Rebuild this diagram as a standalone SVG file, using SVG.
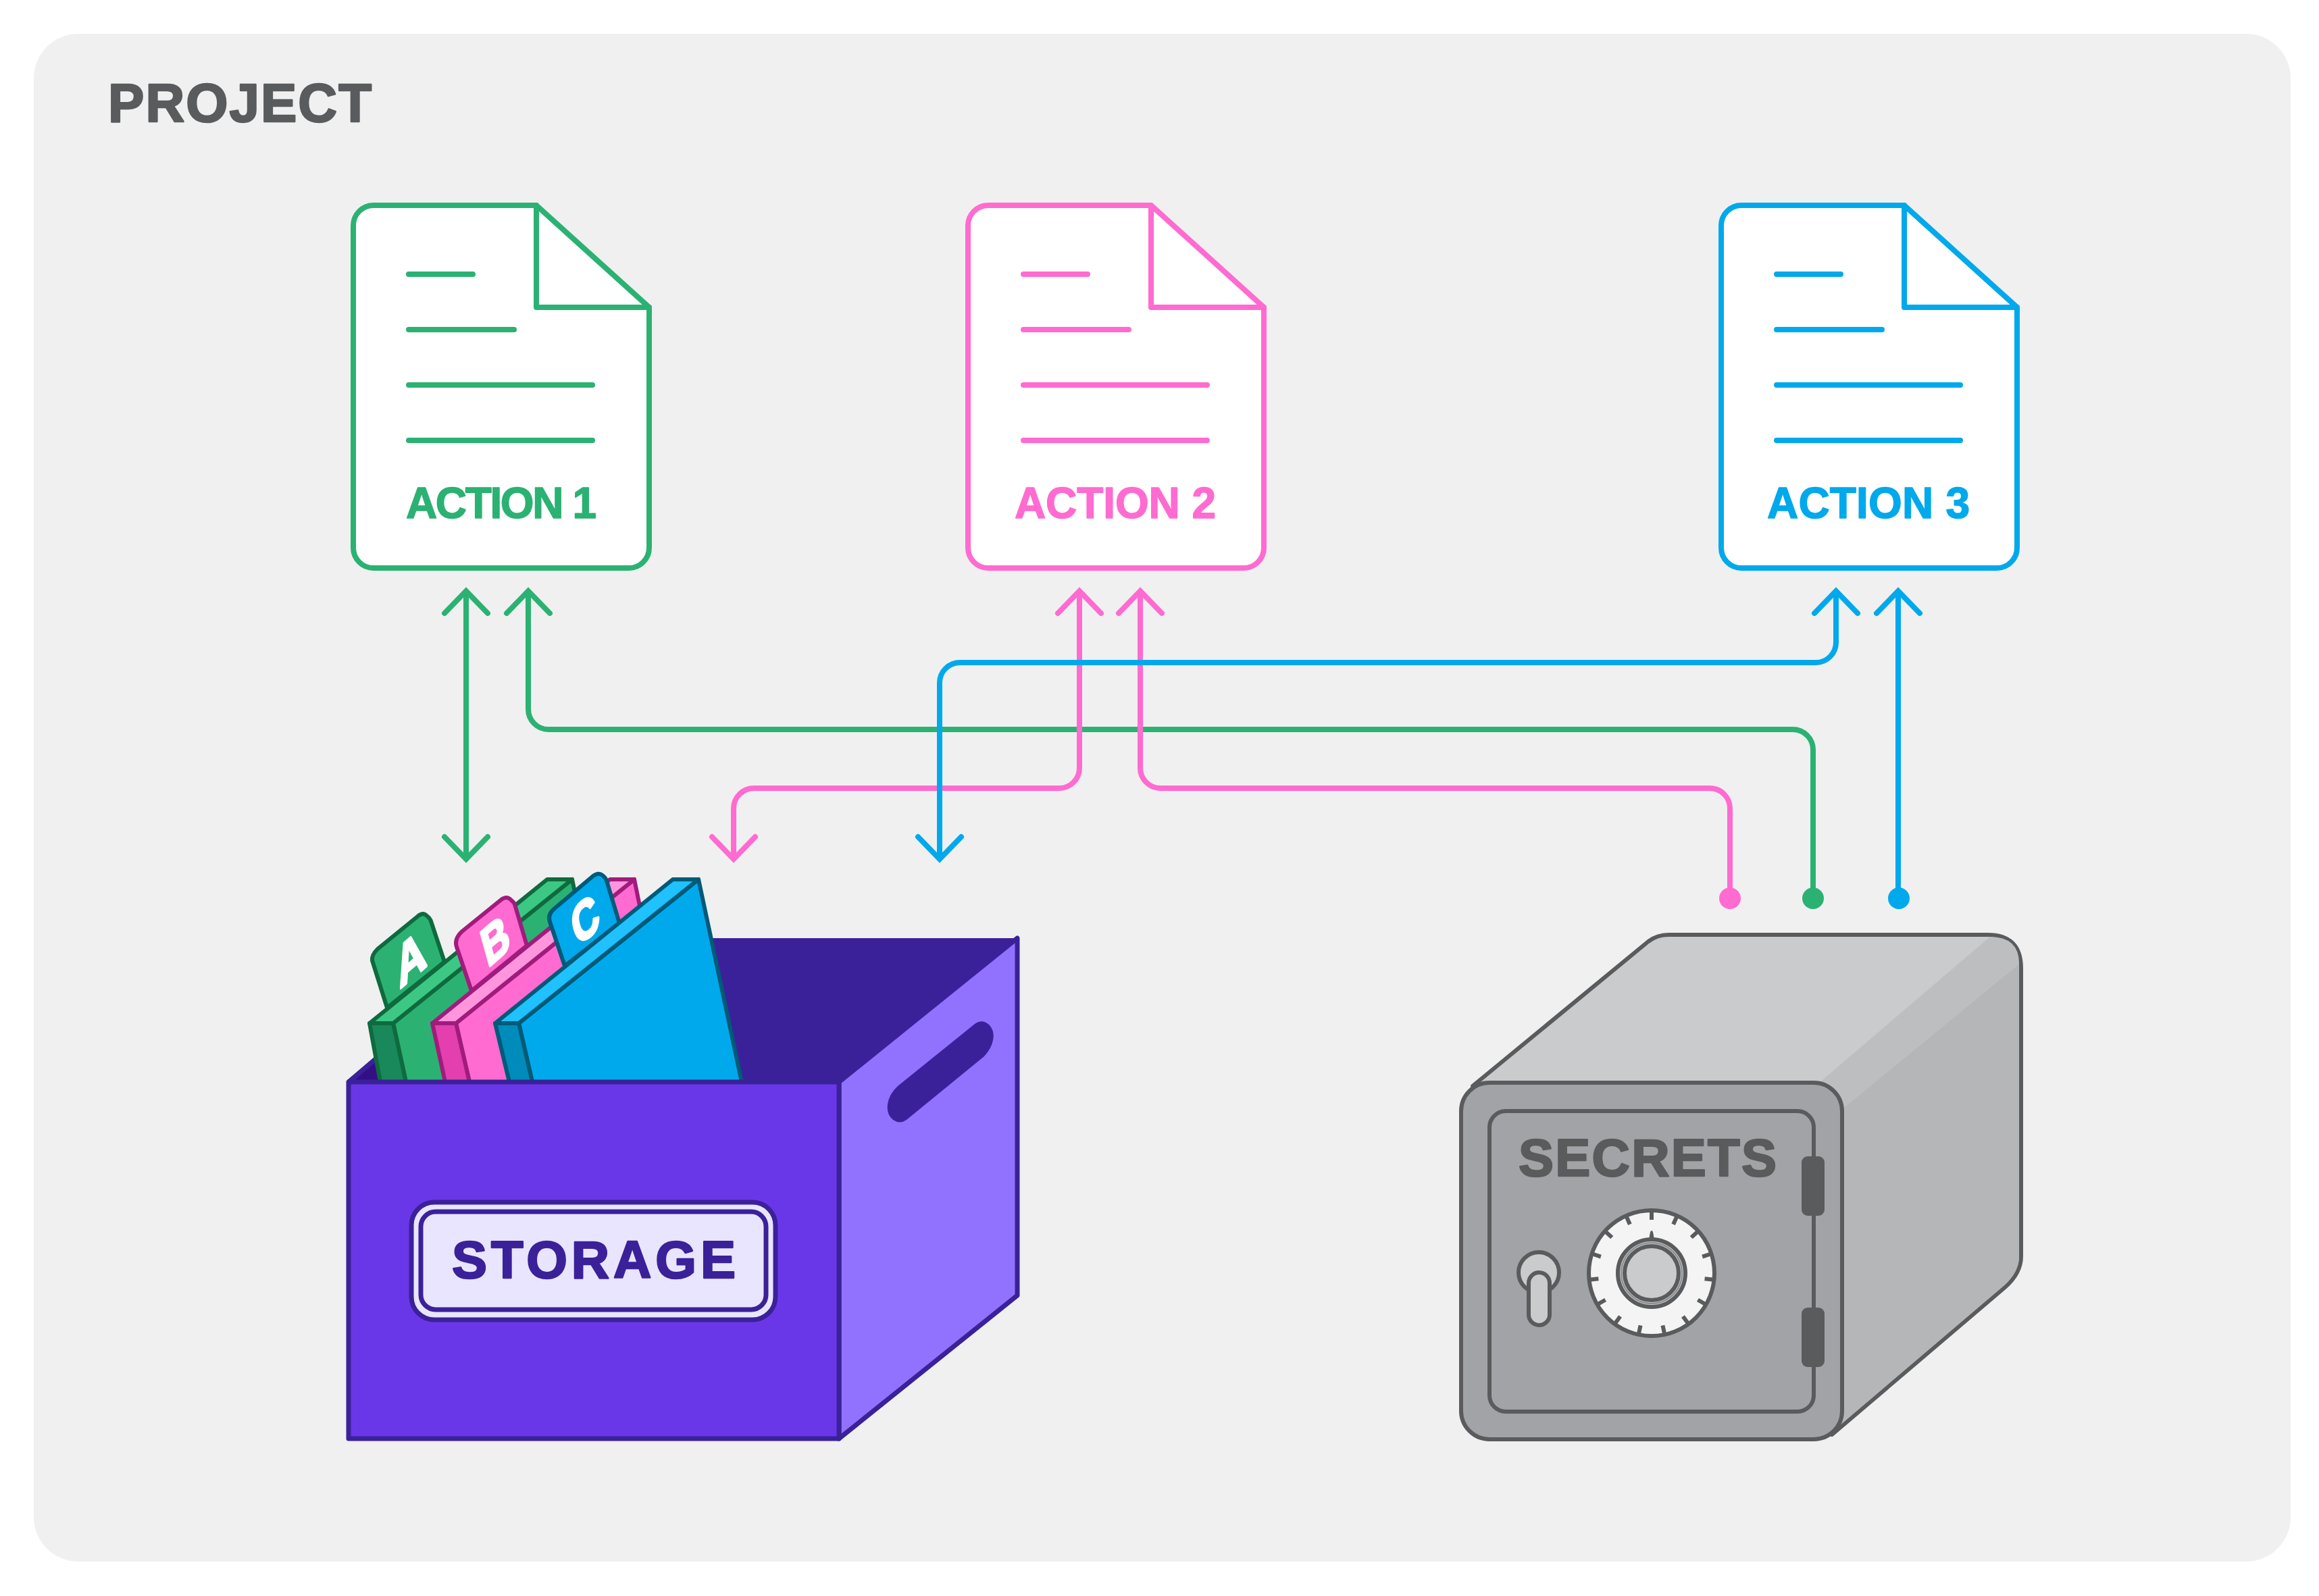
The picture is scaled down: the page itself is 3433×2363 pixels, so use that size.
<svg xmlns="http://www.w3.org/2000/svg" width="3433" height="2363" viewBox="0 0 3433 2363">
<style>
text{font-family:"Liberation Sans",Arial,sans-serif;font-weight:700;stroke-linejoin:round}
.lbl{font-size:64px;fill:currentColor;stroke:currentColor;stroke-width:1.500}
.conn{fill:none;stroke-width:8;stroke-linejoin:round}
.g{stroke:#2bb273}.p{stroke:#ff6bd0}.b{stroke:#00a9eb}
.box{stroke:#3b2199;stroke-width:7;stroke-linejoin:round}
.safe{stroke:#5a5b5d;stroke-width:6;stroke-linejoin:round}
.fg{stroke:#0f6a3e;stroke-width:6;stroke-linejoin:round}
.fp{stroke:#a01c7c;stroke-width:6;stroke-linejoin:round}
.fb{stroke:#005a78;stroke-width:6;stroke-linejoin:round}
.letter{font-size:100px;fill:#fff;stroke:#fff;stroke-width:5}
</style>
<defs>
<g id="doc" fill="none" stroke="currentColor" stroke-width="8" stroke-linejoin="round" stroke-linecap="round">
<path fill="#fff" d="M794,304H553a30,30 0 0 0-30,30V811a30,30 0 0 0 30,30H931a30,30 0 0 0 30-30V455Z"/>
<path d="M794,304V455H961"/>
<path d="M605,406H700M605,488H761M605,570H877M605,652H877"/>
</g>
<marker id="ag" markerUnits="userSpaceOnUse" markerWidth="80" markerHeight="80" refX="0" refY="0" viewBox="-40 -40 80 80" orient="auto-start-reverse" overflow="visible"><path d="M-33,-32L0,0L-33,32" fill="none" stroke="#2bb273" stroke-width="8" stroke-linecap="round"/></marker>
<marker id="ap" markerUnits="userSpaceOnUse" markerWidth="80" markerHeight="80" refX="0" refY="0" viewBox="-40 -40 80 80" orient="auto-start-reverse" overflow="visible"><path d="M-33,-32L0,0L-33,32" fill="none" stroke="#ff6bd0" stroke-width="8" stroke-linecap="round"/></marker>
<marker id="ab" markerUnits="userSpaceOnUse" markerWidth="80" markerHeight="80" refX="0" refY="0" viewBox="-40 -40 80 80" orient="auto-start-reverse" overflow="visible"><path d="M-33,-32L0,0L-33,32" fill="none" stroke="#00a9eb" stroke-width="8" stroke-linecap="round"/></marker>
<path id="tick" d="M0,-79V-93" stroke="#5a5b5d" stroke-width="6" fill="none"/>
</defs>

<g id="project">
<rect x="50" y="50" width="3341" height="2262" rx="66" fill="#f0f0f0"/>
<text x="160" y="180" font-size="80" fill="#5a5b5d" stroke="#5a5b5d" stroke-width="2.500" textLength="390">PROJECT</text>
</g>

<g id="action-1" style="color:#2bb273"><use href="#doc"/><text class="lbl" x="601" y="767" textLength="282">ACTION 1</text></g>
<g id="action-2" style="color:#ff6bd0" transform="translate(910,0)"><use href="#doc"/><text class="lbl" x="592" y="767" textLength="298">ACTION 2</text></g>
<g id="action-3" style="color:#00a9eb" transform="translate(2025,0)"><use href="#doc"/><text class="lbl" x="591" y="767" textLength="300">ACTION 3</text></g>

<g id="connectors">
<path class="conn g" d="M690,875V1272" marker-start="url(#ag)" marker-end="url(#ag)"/>
<path class="conn g" d="M782,875V1050a30,30 0 0 0 30,30H2654a30,30 0 0 1 30,30V1330" marker-start="url(#ag)"/>
<path class="conn p" d="M1598,875V1137a30,30 0 0 1-30,30H1116a30,30 0 0 0-30,30V1272" marker-start="url(#ap)" marker-end="url(#ap)"/>
<path class="conn p" d="M1688,875V1137a30,30 0 0 0 30,30H2531a30,30 0 0 1 30,30V1330" marker-start="url(#ap)"/>
<path class="conn b" d="M2718,875V951a30,30 0 0 1-30,30H1421a30,30 0 0 0-30,30V1272" marker-start="url(#ab)" marker-end="url(#ab)"/>
<path class="conn b" d="M2810,875V1330" marker-start="url(#ab)"/>
<circle cx="2561" cy="1330" r="16" fill="#ff6bd0"/>
<circle cx="2684" cy="1330" r="16" fill="#2bb273"/>
<circle cx="2811" cy="1330" r="16" fill="#00a9eb"/>
</g>

<g id="storage">
<path d="M516,1602L780,1389H1506L1242,1602Z" fill="#3b2199"/>
<path d="M525,1600L570,1555V1600Z" fill="#330f85"/>
<path d="M516,1602L570,1556" stroke="#3b2199" stroke-width="7" fill="none"/>
<g transform="translate(0,2)">
<path class="fg" fill="#2bb273" d="M573,1490L551,1420Q550,1412 559,1403L618,1355Q626,1348 632,1354Q637,1358 638,1362L658,1422Z"/>
<path class="fg" fill="#2bb273" d="M582,1513L847,1300L910,1600H601Z"/>
<path class="fg" fill="#19885a" d="M547,1513H582L601,1600H563Z"/>
<path class="fg" fill="#3cc884" d="M547,1513L810,1300H847L582,1513Z"/>
<path class="fp" fill="#ff6bd0" d="M675,1513L939,1300L1000,1600H695Z"/>
<path class="fp" fill="#ff96dd" d="M640,1513L903,1300H939L675,1513Z"/>
<path class="fp" fill="#e33fae" d="M640,1513H675L695,1600H659Z"/>
<path class="fp" fill="#ff6bd0" d="M698,1465L676,1400Q672,1388 684,1377L742,1330Q750,1324 756,1330Q761,1334 762,1337L780,1398Z"/>
<path class="fb" fill="#00a9eb" d="M836,1428L814,1363Q810,1352 821,1343L878,1295Q886,1289 892,1294Q897,1298 898,1302L917,1365Z"/>
<path class="fb" fill="#00a9eb" d="M768,1513L1034,1300L1098,1600H788Z"/>
<path class="fb" fill="#008cba" d="M733,1513H768L788,1600H754Z"/>
<path class="fb" fill="#1fc1ff" d="M733,1513L996,1300H1034L768,1513Z"/>
<text class="letter" transform="matrix(0.568,-0.485,0.14,0.789,592,1462)">A</text>
<text class="letter" transform="matrix(0.5,-0.43,0.2,0.72,722,1431)">B</text>
<text class="letter" transform="matrix(0.5,-0.43,0.2,0.72,855,1400)">C</text>
</g>
<path class="box" fill="#9172ff" d="M1242,1602L1506,1389V1918L1242,2130Z"/>
<path class="box" fill="#6a37e8" d="M516,1602H1242V2130H516Z"/>
<path fill="#3b2199" d="M1443,1516Q1454,1508 1464,1517Q1473,1526 1470,1540Q1468,1552 1457,1564L1342,1658Q1332,1665 1322,1658Q1312,1650 1314,1635Q1316,1620 1329,1608Z"/>
<rect x="609" y="1780" width="539" height="174" rx="34" fill="#e9e5ff" stroke="#3b2199" stroke-width="7"/>
<rect x="623" y="1794" width="511" height="145" rx="22" fill="#e9e5ff" stroke="#3b2199" stroke-width="7"/>
<text x="669" y="1892" font-size="78" fill="#3b2199" stroke="#3b2199" stroke-width="2.500" textLength="420">STORAGE</text>
</g>

<g id="secrets">
<path fill="#cacbcd" class="safe" d="M2180,1608L2440,1394Q2453,1384 2470,1384H2942Q2992,1384 2992,1434V1860Q2992,1885 2968,1906L2712,2124V1608Z"/>
<path fill="#b5b6b8" d="M2727,1642L2989,1427V1860Q2989,1884 2966,1904L2718,2115Z"/>
<path fill="#bdbec0" d="M2692,1604L2946,1387Q2989,1387 2989,1427L2727,1642Q2720,1610 2692,1604Z"/>
<rect class="safe" x="2163" y="1603" width="564" height="528" rx="42" fill="#a2a3a6"/>
<rect class="safe" x="2205" y="1645" width="480" height="445" rx="24" fill="#a2a3a6"/>
<rect x="2667" y="1712" width="34" height="88" rx="9" fill="#5a5b5d"/>
<rect x="2667" y="1936" width="34" height="88" rx="9" fill="#5a5b5d"/>
<text x="2248" y="1741" font-size="78" fill="#5a5b5d" stroke="#5a5b5d" stroke-width="2.500" textLength="382">SECRETS</text>
<circle class="safe" cx="2278" cy="1884" r="30" fill="#cacbcd"/>
<rect class="safe" x="2263" y="1884" width="31" height="78" rx="15.500" fill="#cacbcd"/>
<g id="dial" transform="translate(2445,1885)">
<circle class="safe" r="93" fill="#f4f4f5"/>
<use href="#tick"/><use href="#tick" transform="rotate(24)"/><use href="#tick" transform="rotate(48)"/><use href="#tick" transform="rotate(72)"/><use href="#tick" transform="rotate(96)"/><use href="#tick" transform="rotate(120)"/><use href="#tick" transform="rotate(144)"/><use href="#tick" transform="rotate(168)"/><use href="#tick" transform="rotate(192)"/><use href="#tick" transform="rotate(216)"/><use href="#tick" transform="rotate(240)"/><use href="#tick" transform="rotate(264)"/><use href="#tick" transform="rotate(288)"/><use href="#tick" transform="rotate(312)"/><use href="#tick" transform="rotate(336)"/>
<path d="M-4,-50L-2,-61Q0,-65 2,-61L4,-50Z" fill="#5a5b5d"/>
<circle class="safe" r="50" fill="#cacbcd"/>
<circle r="45" fill="none" stroke="#8a8b8d" stroke-width="2"/>
<circle class="safe" r="40" fill="#cacbcd"/>
</g>
</g>
</svg>
